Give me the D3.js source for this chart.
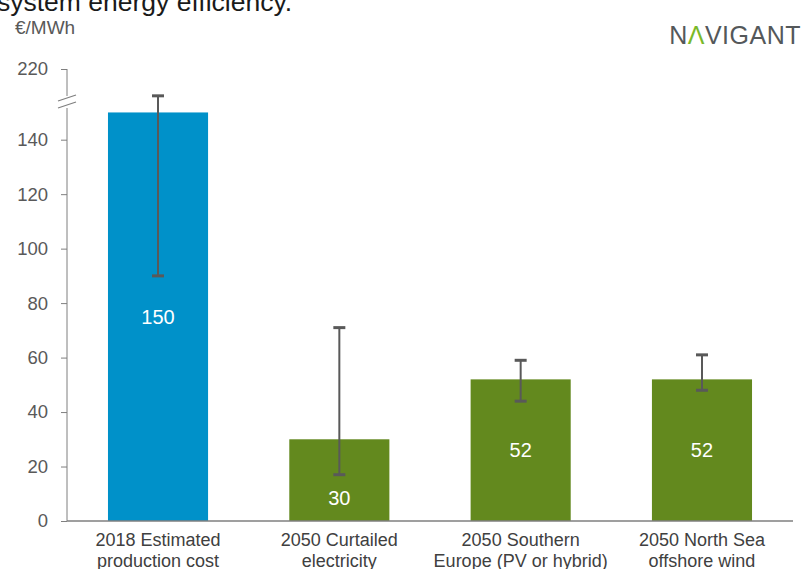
<!DOCTYPE html>
<html>
<head>
<meta charset="utf-8">
<script src="https://cdn.jsdelivr.net/npm/d3@7"></script>
<style>
  body { margin: 0; background: #fff; }
  svg { font-family: "Liberation Sans", Arial, sans-serif; }
  .tick text { fill: #595959; font-size: 18.5px; }
  .tick line { stroke: #7f7f7f; }
</style>
</head>
<body>
<div id="chart"></div>
<script>
// values
var categories = ["2018 Estimated|production cost", "2050 Curtailed|electricity",
                  "2050 Southern|Europe (PV or hybrid)", "2050 North Sea|offshore wind"];
var values = [150, 30, 52, 52];
var errLow = [90, 17, 44, 48];
var errHigh = [172, 71, 59, 61];   // first one sits above the axis break
var barColors = ["#0091c9", "#63891e", "#63891e", "#63891e"];
var yTicks = [0, 20, 40, 60, 80, 100, 120, 140, 220];

var width = 802, height = 569;

var svg = d3.select("#chart").append("svg")
  .attr("width", width)
  .attr("height", height);

// broken axis: 0..152 linear, then a squeezed bit up to 220
var y = d3.scaleLinear()
  .domain([0, 152, 220])
  .range([521, 107, 69]);

var x = d3.scaleBand()
  .domain(categories)
  .range([67, 793])
  .paddingInner(0.448)
  .paddingOuter(0.226);

var data = categories.map((c, i) => ({
  cat: c, value: values[i], lo: errLow[i], hi: errHigh[i], color: barColors[i]
}));

// title line cut off at the top of the slide (as in the source)
svg.append("text")
  .attr("x", -3).attr("y", 11)
  .style("font-size", "26.5px")
  .style("fill", "#1a1a1a")
  .text("system energy efficiency.");

svg.append("text")
  .attr("x", 15).attr("y", 34)
  .style("font-size", "19px")
  .style("fill", "#595959")
  .text("€/MWh");

// logo
var logo = svg.append("text")
  .attr("x", 801).attr("y", 44)
  .attr("text-anchor", "end")
  .style("font-size", "25px")
  .style("fill", "#54585a")
  .style("letter-spacing", "0.5px");
logo.append("tspan").text("N");
logo.append("tspan").style("fill", "#7ab929").text("Λ");
logo.append("tspan").text("VIGANT");

// y axis
var yAxis = svg.append("g")
  .attr("transform", "translate(67,0)")
  .call(d3.axisLeft(y).tickValues(yTicks).tickSize(6).tickPadding(13));
yAxis.select(".domain").remove();

var axisColor = "#7f7f7f";
svg.append("line")
  .attr("x1", 67).attr("x2", 67)
  .attr("y1", y(0)).attr("y2", 108)
  .attr("stroke", axisColor);
svg.append("line")
  .attr("x1", 67).attr("x2", 67)
  .attr("y1", y(220)).attr("y2", 96)
  .attr("stroke", axisColor);
// break marks
[98, 105].forEach(yy => {
  svg.append("line")
    .attr("x1", 58).attr("x2", 76)
    .attr("y1", yy + 3).attr("y2", yy - 3)
    .attr("stroke", axisColor)
    .attr("stroke-width", 1.3);
});

// bars
svg.append("g").selectAll("rect")
  .data(data)
  .enter().append("rect")
    .attr("x", d => x(d.cat))
    .attr("y", d => y(d.value))
    .attr("width", x.bandwidth())
    .attr("height", d => y(0) - y(d.value))
    .attr("fill", d => d.color);

// baseline
svg.append("line")
  .attr("x1", 67).attr("x2", 793)
  .attr("y1", y(0)).attr("y2", y(0))
  .attr("stroke", axisColor)
  .attr("stroke-width", 1.5);

// error bars
var err = svg.append("g").selectAll("g")
  .data(data)
  .enter().append("g")
    .attr("transform", d => "translate(" + (x(d.cat) + x.bandwidth() / 2) + ",0)")
    .attr("stroke", "#595959");
err.append("line")
  .attr("y1", d => y(d.lo)).attr("y2", d => y(d.hi))
  .attr("stroke-width", 2);
err.append("line")
  .attr("x1", -6).attr("x2", 6)
  .attr("y1", d => y(d.hi)).attr("y2", d => y(d.hi))
  .attr("stroke-width", 3);
err.append("line")
  .attr("x1", -6).attr("x2", 6)
  .attr("y1", d => y(d.lo)).attr("y2", d => y(d.lo))
  .attr("stroke-width", 3);

// value labels, dropped below the error bar when it would hit it
svg.append("g").selectAll("text")
  .data(data)
  .enter().append("text")
    .attr("x", d => x(d.cat) + x.bandwidth() / 2)
    .attr("y", d => {
      var mid = (y(0) + y(d.value)) / 2;
      if (d.lo < d.value && Math.abs(y(d.lo) - mid) < 15) mid = (y(0) + y(d.lo)) / 2;
      return mid;
    })
    .attr("dy", "0.36em")
    .attr("text-anchor", "middle")
    .style("font-size", "20px")
    .style("fill", "#fff")
    .text(d => d.value);

// category labels
svg.append("g").selectAll("text")
  .data(data)
  .enter().append("text")
    .attr("x", d => x(d.cat) + x.bandwidth() / 2)
    .attr("text-anchor", "middle")
    .style("font-size", "18px")
    .style("fill", "#404040")
    .each(function(d) {
      var t = d3.select(this);
      d.cat.split("|").forEach((line, i) => {
        t.append("tspan")
          .attr("x", x(d.cat) + x.bandwidth() / 2)
          .attr("y", 546 + i * 21)
          .text(line);
      });
    });
</script>
</body>
</html>
